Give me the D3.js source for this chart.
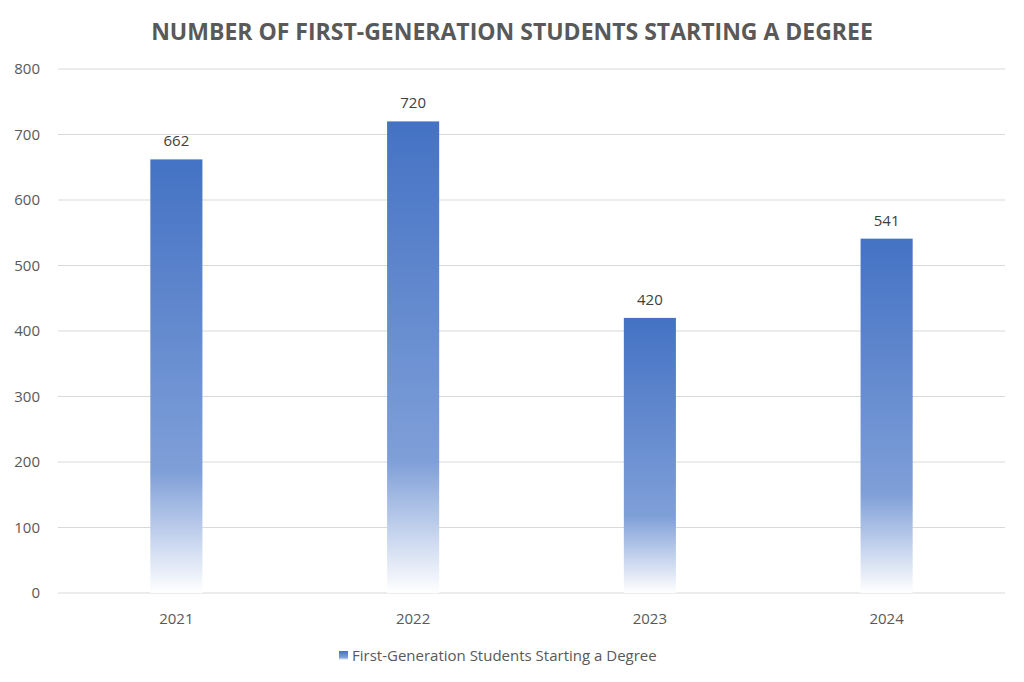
<!DOCTYPE html>
<html><head><meta charset="utf-8">
<script src="https://cdn.jsdelivr.net/npm/d3@7"></script>
<style>body{margin:0;background:#fff}svg{display:block;font-family:"Open Sans",sans-serif}</style>
</head><body><svg id="c" width="1024" height="682"></svg>
<script>
const years = ["2021", "2022", "2023", "2024"];
const students = [662, 720, 420, 541];
const yTicks = [0, 100, 200, 300, 400, 500, 600, 700, 800];
const seriesName = "First-Generation Students Starting a Degree";

const svg = d3.select("#c");
const plotLeft = 58, plotRight = 1005, plotTop = 69, plotBottom = 593;

const x = d3.scaleBand().domain(years).range([plotLeft, plotRight]).paddingInner(0.78).paddingOuter(0.39);
const y = d3.scaleLinear().domain([0, 800]).range([plotBottom, plotTop]);

const defs = svg.append("defs");
const g = defs.append("linearGradient").attr("id", "grad").attr("x1", 0).attr("y1", 0).attr("x2", 0).attr("y2", 1);
g.append("stop").attr("offset", "0").attr("stop-color", "#4472c4");
g.append("stop").attr("offset", "0.72").attr("stop-color", "#7f9fd8");
g.append("stop").attr("offset", "1").attr("stop-color", "#ffffff");

svg.append("text").attr("x", 512).attr("y", 40).attr("text-anchor", "middle")
  .attr("font-size", 23).attr("font-weight", "bold").attr("fill", "#595959")
  .text("NUMBER OF FIRST-GENERATION STUDENTS STARTING A DEGREE");

svg.append("g").selectAll("line").data(yTicks).join("line")
  .attr("x1", plotLeft).attr("x2", plotRight).attr("y1", d => y(d)).attr("y2", d => y(d))
  .attr("stroke", "#d9d9d9").attr("stroke-width", 1);

svg.append("g").selectAll("text").data(yTicks).join("text")
  .attr("x", 40).attr("y", d => y(d) + 5).attr("text-anchor", "end")
  .attr("font-size", 15).attr("fill", "#595959").text(d => d);

svg.append("g").selectAll("rect").data(students).join("rect")
  .attr("x", (d, i) => x(years[i])).attr("width", x.bandwidth())
  .attr("y", d => y(d)).attr("height", d => plotBottom - y(d))
  .attr("fill", "url(#grad)");

svg.append("g").selectAll("text").data(students).join("text")
  .attr("x", (d, i) => x(years[i]) + x.bandwidth() / 2).attr("y", d => y(d) - 13)
  .attr("text-anchor", "middle").attr("font-size", 15).attr("fill", "#404040").text(d => d);

svg.append("g").selectAll("text").data(years).join("text")
  .attr("x", d => x(d) + x.bandwidth() / 2).attr("y", 624)
  .attr("text-anchor", "middle").attr("font-size", 15).attr("fill", "#595959").text(d => d);

const lg = svg.append("g");
lg.append("rect").attr("x", 339).attr("y", 651).attr("width", 9).attr("height", 9).attr("fill", "url(#grad)");
lg.append("text").attr("x", 352).attr("y", 661).attr("font-size", 15).attr("fill", "#595959").text(seriesName);
</script></body></html>
